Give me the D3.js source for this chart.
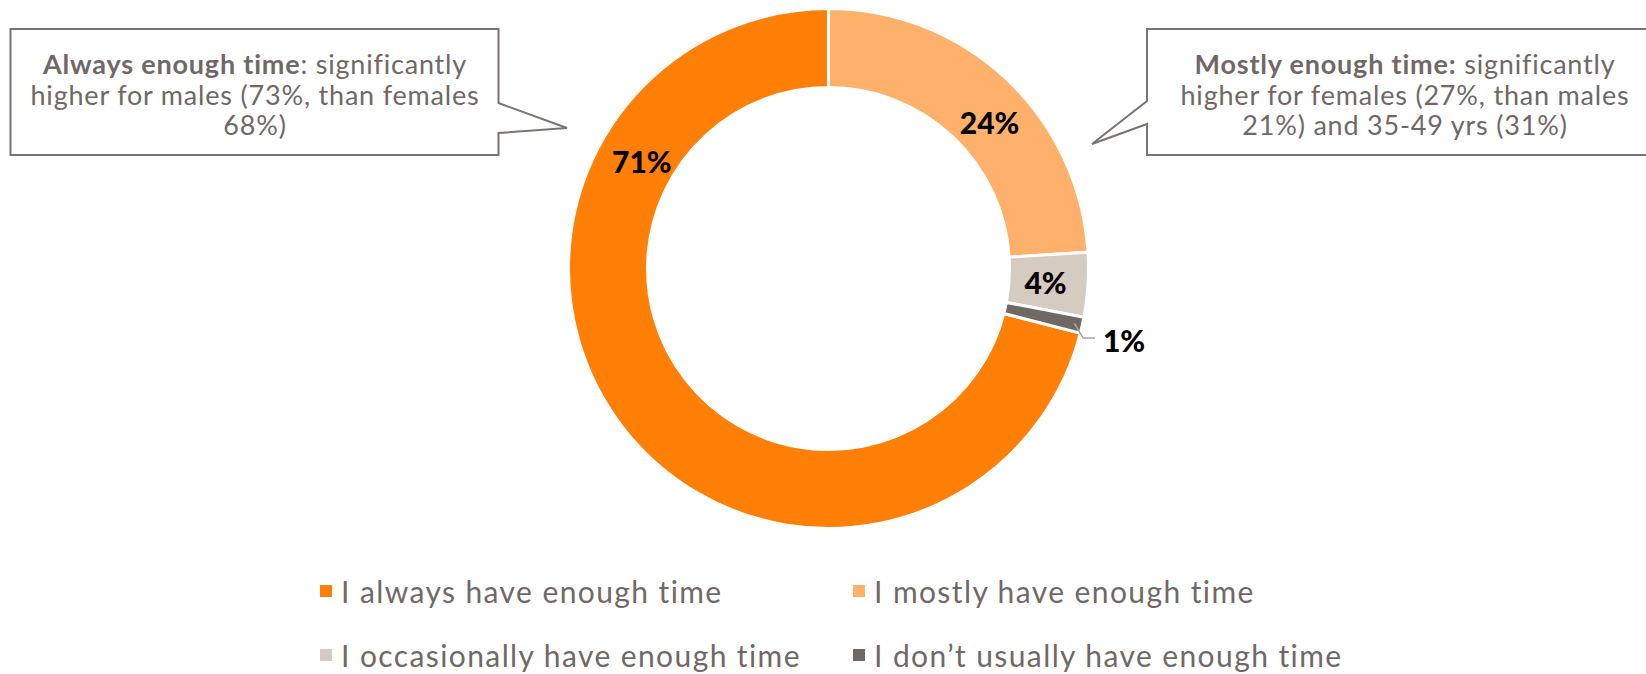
<!DOCTYPE html>
<html>
  <head>
    <title>Enough time</title>
    <style>
      body { margin: 0; background: #fff; }
      text { font-family: Lato, "Open Sans", sans-serif; }
    </style>
  </head>
  <body>
    <svg width="1646" height="674"></svg>

    <script src="https://cdn.jsdelivr.net/npm/d3@7"></script>
    <script>

      var categories = [
        "I always have enough time",
        "I mostly have enough time",
        "I occasionally have enough time",
        "I don\u2019t usually have enough time"
      ];
      var values = [71, 24, 4, 1];
      var labels = ["71%", "24%", "4%", "1%"];
      var colors = ["#ff7f07", "#ffb16b", "#d5cbc0", "#716866"];

      var svg = d3.select("svg"),
        width = +svg.attr("width"),
        height = +svg.attr("height");

      var cx = 828.5, cy = 268.5,
        outerR = 260, innerR = 181;

      var rad = Math.PI / 180;
      var start = 360 - values[0] * 3.6; // last slice closes at 12 o'clock

      var pie = d3.pie()
        .sort(null)
        .startAngle(start * rad)
        .endAngle((start + 360) * rad);

      var arc = d3.arc().innerRadius(innerR).outerRadius(outerR);

      var arcs = pie(values);

      var g = svg.append("g").attr("transform", "translate(" + cx + "," + cy + ")");

      g.selectAll("path")
        .data(arcs)
        .enter().append("path")
        .attr("d", arc)
        .attr("fill", function (d, i) { return colors[i]; })
        .attr("stroke", "#fff")
        .attr("stroke-width", 3);

      // data labels (first two were nudged by hand in the original)
      var midR = (innerR + outerR) / 2;
      var labelAngle = [300, 47.8, null, null];
      function polar(r, deg) {
        return [r * Math.sin(deg * rad), -r * Math.cos(deg * rad)];
      }

      arcs.forEach(function (d, i) {
        var mid = (d.startAngle + d.endAngle) / 2 / rad;
        var p;
        if (i === 3) {
          // outside label with leader line
          var a = polar(outerR - 8, mid);
          var lx = 1083 - cx, ly = 338 - cy;
          g.append("polyline")
            .attr("points", [[a[0], a[1]], [lx, ly], [lx + 12, ly]].map(function (q) { return q.join(","); }).join(" "))
            .attr("fill", "none")
            .attr("stroke", "#a6a6a6")
            .attr("stroke-width", 1.5);
          p = [lx + 41, ly + 2];
        } else {
          p = polar(i === 0 ? midR - 5 : midR - 3, labelAngle[i] == null ? mid : labelAngle[i]);
        }
        g.append("text")
          .attr("x", p[0])
          .attr("y", p[1])
          .attr("text-anchor", "middle")
          .attr("dominant-baseline", "central")
          .attr("font-size", 30)
          .attr("font-weight", 900)
          .attr("fill", "#000")
          .text(labels[i]);
      });

      // callouts
      var calloutStroke = "#7b7372";
      var textGray = "#716866";

      var leftBox = d3.path();
      leftBox.moveTo(10.5, 29);
      leftBox.lineTo(498.5, 29);
      leftBox.lineTo(498.5, 103);
      leftBox.lineTo(567, 128);
      leftBox.lineTo(498.5, 133);
      leftBox.lineTo(498.5, 155);
      leftBox.lineTo(10.5, 155);
      leftBox.closePath();
      svg.append("path").attr("d", leftBox.toString())
        .attr("fill", "#fff").attr("stroke", calloutStroke).attr("stroke-width", 2);

      var rightBox = d3.path();
      rightBox.moveTo(1147, 29);
      rightBox.lineTo(1650, 29);
      rightBox.lineTo(1650, 155);
      rightBox.lineTo(1147, 155);
      rightBox.lineTo(1147, 124);
      rightBox.lineTo(1092, 144);
      rightBox.lineTo(1147, 101);
      rightBox.closePath();
      svg.append("path").attr("d", rightBox.toString())
        .attr("fill", "#fff").attr("stroke", calloutStroke).attr("stroke-width", 2);

      var leftLines = [
        [["Always enough time", true], [": significantly", false]],
        [["higher for males (73%, than females", false]],
        [["68%)", false]]
      ];
      var rightLines = [
        [["Mostly enough time:", true], [" significantly", false]],
        [["higher for females (27%, than males", false]],
        [["21%) and 35-49 yrs (31%)", false]]
      ];

      function callout(lines, x, y0) {
        lines.forEach(function (line, i) {
          var t = svg.append("text")
            .attr("x", x)
            .attr("y", y0 + i * 30.5)
            .attr("text-anchor", "middle")
            .attr("dominant-baseline", "central")
            .attr("font-size", 27)
            .attr("letter-spacing", 0.8)
            .attr("fill", textGray);
          line.forEach(function (part) {
            t.append("tspan")
              .attr("font-weight", part[1] ? 700 : 400)
              .text(part[0]);
          });
        });
      }
      callout(leftLines, 255, 63);
      callout(rightLines, 1405, 63);

      // legend
      var legendX = [320, 853], legendY = [591, 655];
      var legend = svg.append("g")
        .selectAll("g")
        .data(categories)
        .enter().append("g")
        .attr("transform", function (d, i) {
          return "translate(" + legendX[i % 2] + "," + legendY[Math.floor(i / 2)] + ")";
        });

      legend.append("rect")
        .attr("x", 0).attr("y", -6)
        .attr("width", 12).attr("height", 12)
        .attr("fill", function (d, i) { return colors[i]; });

      legend.append("text")
        .attr("x", 21)
        .attr("y", 0)
        .attr("dominant-baseline", "central")
        .attr("font-size", 30)
        .attr("letter-spacing", 1.4)
        .attr("fill", textGray)
        .text(function (d) { return d; });

    </script>
  </body>
</html>
